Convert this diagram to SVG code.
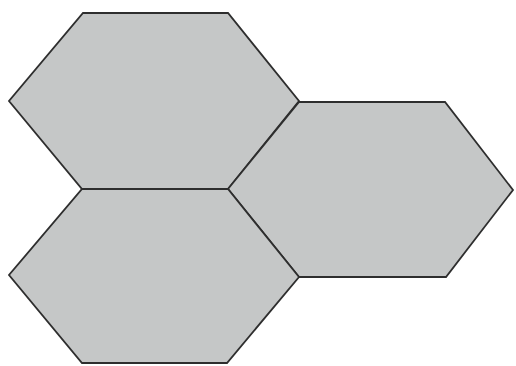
<svg xmlns="http://www.w3.org/2000/svg" width="516" height="366" viewBox="0 0 516 366">
<style>
.hex{fill:#c5c7c7;stroke:#2e2e2e;stroke-width:1.8;stroke-linejoin:miter}
</style>
<rect width="516" height="366" fill="#ffffff"/>
<g id="hex-top"><polygon class="hex" points="83,13 228,13 299,101 228,189 82,189 9,101"/></g>
<g id="hex-right"><polygon class="hex" points="299,102 445,102 513,190 446,277 299,277 228,189"/></g>
<g id="hex-bottom"><polygon class="hex" points="82,189 228,189 299,277 227,363 82,363 9,275"/></g>
<g id="connectors"></g>
</svg>
